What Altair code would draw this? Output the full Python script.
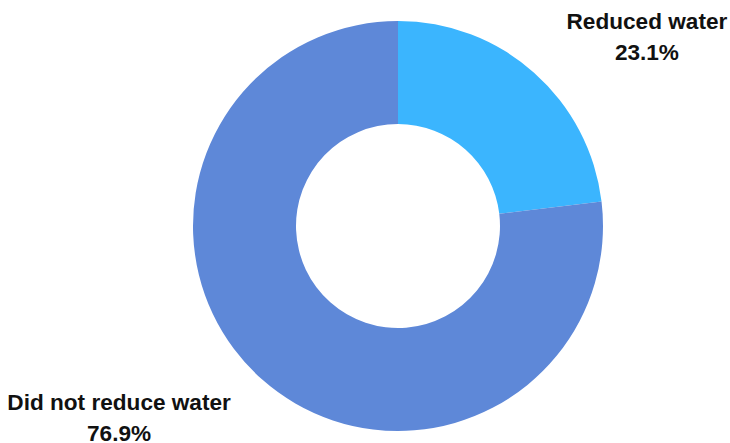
import altair as alt
import pandas as pd

categories = ["Reduced water", "Did not reduce water"]
values = [23.1, 76.9]
labels = ["Reduced water\n23.1%", "Did not reduce water\n76.9%"]
order = [1, 2]
colors = ["#3bb5fe", "#5e88d8"]

df = pd.DataFrame({"category": categories, "value": values, "label": labels, "order": order})

base = alt.Chart(df)

arcs = base.mark_arc(outerRadius=205, innerRadius=102).encode(
    theta=alt.Theta("value:Q", stack=True),
    order=alt.Order("order:Q"),
    color=alt.Color("category:N", scale=alt.Scale(domain=categories, range=colors), legend=None),
)

def label_layer(cat, dx, dy):
    return (
        base.transform_joinaggregate(total="sum(value)")
        .transform_window(cum="sum(value)", sort=[alt.SortField("order")])
        .transform_calculate(mid="(datum.cum - datum.value / 2) / datum.total * 2 * PI")
        .transform_filter(alt.datum.category == cat)
        .mark_text(
            font="Liberation Sans", fontSize=22.6, fontWeight="bold", color="#111111",
            lineBreak="\n", lineHeight=31, align="center", baseline="middle", dx=dx, dy=dy,
        )
        .encode(
            theta=alt.Theta("mid:Q", scale=None),
            radius=alt.value(250),
            text="label:N",
        )
    )

chart = (
    alt.layer(arcs, label_layer(categories[0], 83, -16.5), label_layer(categories[1], -113, -10))
    .resolve_scale(theta="independent")
    .properties(
        width=664, height=434,
        autosize=alt.AutoSizeParams(type="none"),
        padding={"left": 66, "top": 9, "right": 0, "bottom": 0},
    )
    .configure_view(stroke=None)
    .configure(background="white")
)

chart.save("out.html", embed_options={"renderer": "svg", "actions": False})
